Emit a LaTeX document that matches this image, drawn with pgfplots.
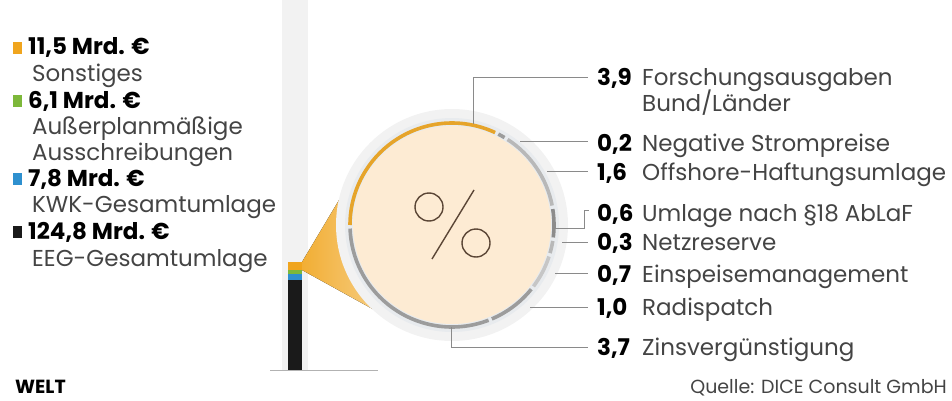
\documentclass[border=0pt]{standalone}
\usepackage{fontspec}
\setmainfont{Poppins}
\usepackage{pgfplots}
\pgfplotsset{compat=1.18}
\definecolor{cOr}{HTML}{F0A51E}
\definecolor{cArc}{HTML}{E6A42A}
\definecolor{cGreen}{HTML}{7DB83A}
\definecolor{cBlue}{HTML}{2E90CF}
\definecolor{cBlack}{HTML}{1A1A1A}
\definecolor{cPeach}{HTML}{FDEBD3}
\definecolor{cHalo}{HTML}{F2F2F2}
\definecolor{cBand}{HTML}{E8EBEE}
\definecolor{cTxt}{HTML}{444444}
\definecolor{cLine}{HTML}{8A8A8A}
\definecolor{cPct}{HTML}{5B4636}
\definecolor{gA}{HTML}{9C9C9C}
\definecolor{gB}{HTML}{B8B8B8}
\definecolor{gC}{HTML}{8C8C8C}
\definecolor{gD}{HTML}{C6C6C6}
\newcommand\lf{\fontsize{23}{27}\selectfont}
\newcommand\sfz{\fontsize{19}{22}\selectfont}
% arc segment: start angle, value, colour (30 degrees per unit)
\newcommand\seg[3]{\draw[#3, line width=3.6pt] (axis cs:452,175) ++({#1-1}:102pt) arc[start angle={#1-1}, delta angle={-30*#2+2}, radius=102pt];}
\begin{document}
\begin{tikzpicture}
\begin{axis}[name=main, at={(0,0)}, anchor=south west, width=952pt, height=400pt,
  scale only axis, xmin=0, xmax=952, ymin=0, ymax=400, hide axis, clip=false]
\path (axis cs:0,0) rectangle (axis cs:952,400);
% gray column and baseline
\fill[gray!10] (axis cs:282,30) rectangle (axis cs:308,400);
\draw[gray!60, line width=0.8pt] (axis cs:270,30) -- (axis cs:378,30);
% zoom wedge
\fill[left color=cOr!90, right color=cOr!25] (axis cs:302,138) -- (axis cs:348,215) -- (axis cs:452,175) -- (axis cs:378,88) -- (axis cs:302,130) -- cycle;
% circle
\fill[cHalo] (axis cs:452,175) circle[radius=116pt];
\fill[cBand] (axis cs:452,175) circle[radius=107pt];
\fill[cPeach] (axis cs:452,175) circle[radius=99pt];
% ring segments
\seg{181}{3.9}{cArc}
\seg{181-30*3.9}{0.2}{gA}
\seg{181-30*4.1}{1.6}{gB}
\seg{181-30*5.7}{0.6}{gC}
\seg{181-30*6.3}{0.3}{gB}
\seg{181-30*6.6}{0.7}{gD}
\seg{181-30*7.3}{1.0}{gA}
\seg{181-30*8.3}{3.7}{gA}
% percent sign
\draw[cPct, line width=1.4pt] (axis cs:429,193) circle[radius=14pt];
\draw[cPct, line width=1.4pt] (axis cs:476,157) circle[radius=14pt];
\draw[cPct, line width=1.4pt] (axis cs:474,210) -- (axis cs:432,141);
% leader lines
\draw[cLine, line width=0.9pt] (axis cs:473,276) -- (axis cs:473,323) -- (axis cs:588,323);
\draw[cLine, line width=0.9pt] (axis cs:520,259) -- (axis cs:588,259);
\draw[cLine, line width=0.9pt] (axis cs:547,229) -- (axis cs:588,229);
\draw[cLine, line width=0.9pt] (axis cs:553,172) -- (axis cs:584,172) -- (axis cs:584,190) -- (axis cs:589,190);
\draw[cLine, line width=0.9pt] (axis cs:562,158) -- (axis cs:588,158);
\draw[cLine, line width=0.9pt] (axis cs:555,127) -- (axis cs:588,127);
\draw[cLine, line width=0.9pt] (axis cs:530,93) -- (axis cs:588,93);
\draw[cLine, line width=0.9pt] (axis cs:451,73) -- (axis cs:451,53) -- (axis cs:588,53);
% right labels
\begin{scope}[every node/.style={anchor=base west, inner sep=0pt, font=\lf}]
\node[font=\lf\bfseries] at (axis cs:597,315) {3,9};
\node[text=cTxt] at (axis cs:642,315) {Forschungsausgaben};
\node[text=cTxt] at (axis cs:642,289) {Bund/Länder};
\node[font=\lf\bfseries] at (axis cs:597,249) {0,2};
\node[text=cTxt] at (axis cs:642,249) {Negative Strompreise};
\node[font=\lf\bfseries] at (axis cs:597,220) {1,6};
\node[text=cTxt] at (axis cs:642,220) {Offshore-Haftungsumlage};
\node[font=\lf\bfseries] at (axis cs:597,179) {0,6};
\node[text=cTxt] at (axis cs:642,179) {Umlage nach §18 AbLaF};
\node[font=\lf\bfseries] at (axis cs:597,150) {0,3};
\node[text=cTxt] at (axis cs:642,150) {Netzreserve};
\node[font=\lf\bfseries] at (axis cs:597,118) {0,7};
\node[text=cTxt] at (axis cs:642,118) {Einspeisemanagement};
\node[font=\lf\bfseries] at (axis cs:597,85) {1,0};
\node[text=cTxt] at (axis cs:642,85) {Radispatch};
\node[font=\lf\bfseries] at (axis cs:597,45) {3,7};
\node[text=cTxt] at (axis cs:642,45) {Zinsvergünstigung};
% left legend
\fill[cOr] (axis cs:13,346) rectangle (axis cs:22,358);
\node[font=\lf\bfseries] at (axis cs:28,345) {11,5 Mrd. €};
\node[text=cTxt] at (axis cs:32,319) {Sonstiges};
\fill[cGreen] (axis cs:13,293) rectangle (axis cs:22,305);
\node[font=\lf\bfseries] at (axis cs:28,292) {6,1 Mrd. €};
\node[text=cTxt] at (axis cs:32,266) {Außerplanmäßige};
\node[text=cTxt] at (axis cs:32,240) {Ausschreibungen};
\fill[cBlue] (axis cs:13,215) rectangle (axis cs:22,227);
\node[font=\lf\bfseries] at (axis cs:28,214) {7,8 Mrd. €};
\node[text=cTxt] at (axis cs:32,188) {KWK-Gesamtumlage};
\fill[cBlack] (axis cs:13,162) rectangle (axis cs:22,174);
\node[font=\lf\bfseries] at (axis cs:28,161) {124,8 Mrd. €};
\node[text=cTxt] at (axis cs:32,134) {EEG-Gesamtumlage};
\node[font=\fontsize{19}{22}\selectfont\bfseries] at (axis cs:15,7) {WELT};
\end{scope}
\node[anchor=base east, inner sep=0pt, font=\sfz, text=cTxt] at (axis cs:947,7) {Quelle: DICE Consult GmbH};
\end{axis}
\begin{axis}[at={(282pt,30pt)}, anchor=south west, width=26pt, height=370pt,
  scale only axis, xmin=-1, xmax=1, ymin=0, ymax=513, hide axis,
  ybar stacked, bar width=14pt]
\addplot[fill=cBlack, draw=none] coordinates {(0,124.8)};
\addplot[fill=cBlue, draw=none] coordinates {(0,7.8)};
\addplot[fill=cGreen, draw=none] coordinates {(0,6.1)};
\addplot[fill=cOr, draw=none] coordinates {(0,11.5)};
\end{axis}
\end{tikzpicture}
\end{document}
